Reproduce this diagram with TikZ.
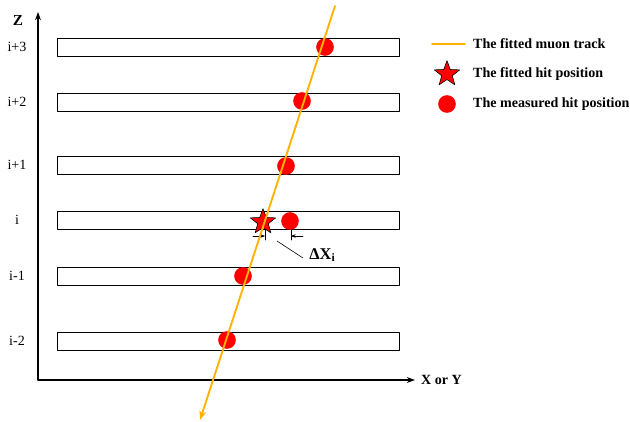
\documentclass[tikz,border=0pt]{standalone}
\usepackage{fontspec}
\setmainfont{Liberation Serif}
\usetikzlibrary{arrows.meta,shapes.geometric}
\definecolor{trackorange}{RGB}{255,178,0}

\begin{document}
\begin{tikzpicture}[x=0.03cm,y=-0.03cm,line cap=round,line join=round,
  layer/.style={draw,line width=0.6pt,minimum width=10.26cm,minimum height=0.54cm,inner sep=0pt},
  hit/.style={circle,fill=red,minimum size=0.53cm,inner sep=0pt},
  fitstar/.style={star,star points=5,star point ratio=2.4,draw=black,fill=red,line width=0.5pt,minimum size=0.8cm,inner sep=0pt},
  lbl/.style={font=\fontsize{12}{14}\selectfont\bfseries},
  rowlbl/.style={font=\fontsize{12}{14}\selectfont}]
  \useasboundingbox (0,0) rectangle (630,422);
  % axes
  \coordinate (O) at (38,380);
  \coordinate (zend) at (38,12);
  \coordinate (xend) at (415,380);
  \draw[line width=0.9pt,-{Stealth[length=7pt,width=5pt]}] (O) -- (zend);
  \draw[line width=0.9pt,-{Stealth[length=7pt,width=5pt]}] (O) -- (xend);
  \node[font=\fontsize{13}{14}\selectfont\bfseries] (zlbl) at (18,21) {Z};
  \node[lbl,anchor=west] (xlbl) at (417,380) {X or Y};
  % layers
  \foreach \n/\y/\t in {r3/47/i+3,r2/102/i+2,r1/165/i+1,r0/220/i,rm1/276/i-1,rm2/341/i-2} {
    \node[layer] (\n) at (228,\y) {};
    \node[rowlbl] (l\n) at (17,\y) {\t};
  }
  % measured hits
  \foreach \n/\x/\y in {h3/325/47,h2/302/101,h1/286/166,h0/290/221,hm1/243/276,hm2/227/340} {
    \node[hit] (\n) at (\x,\y) {};
  }
  \node[fitstar] (fit) at (263,222) {};
  % delta x
  \coordinate (tl1) at (265,230);
  \coordinate (tl2) at (265,240);
  \coordinate (tr1) at (291,230);
  \coordinate (tr2) at (291,240);
  \draw[line width=0.5pt] (tl1) -- (tl2);
  \draw[line width=0.5pt] (tr1) -- (tr2);
  \coordinate (al) at (253,236);
  \coordinate (ar) at (303,236);
  \draw[line width=0.5pt,-{Stealth[length=4pt,width=3pt]}] (al) -- (265,236);
  \draw[line width=0.5pt,-{Stealth[length=4pt,width=3pt]}] (ar) -- (291,236);
  \coordinate (p1) at (277,241);
  \coordinate (p2) at (303,258);
  \draw[line width=0.5pt] (p1) -- (p2);
  \node[font=\fontsize{14}{16}\selectfont\bfseries,anchor=west,inner sep=1pt] (dx) at (308,255) {ΔX\textsubscript{i}};
  % fitted track
  \coordinate (ttop) at (335,6);
  \coordinate (tbot) at (200,420);
  \draw[trackorange,line width=1.6pt,-{Stealth[length=8pt,width=6pt]}] (ttop) -- (tbot);
  % legend
  \coordinate (legA) at (432,44);
  \coordinate (legB) at (465,44);
  \draw[trackorange,line width=1.6pt] (legA) -- (legB);
  \node[fitstar] (legstar) at (447,74) {};
  \node[hit] (leghit) at (447,104) {};
  \node[lbl,anchor=west] (t1) at (469,44) {The fitted muon track};
  \node[lbl,anchor=west] (t2) at (469,74) {The fitted hit position};
  \node[lbl,anchor=west] (t3) at (469,104) {The measured hit position};
\end{tikzpicture}
\end{document}
